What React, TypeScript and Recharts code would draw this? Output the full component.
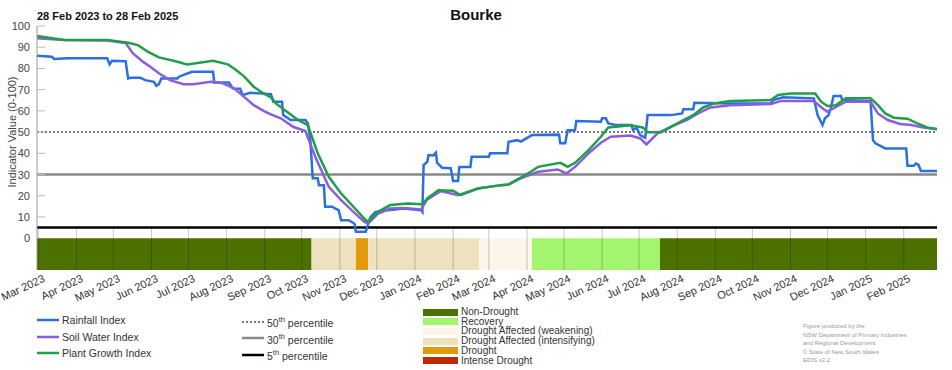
import React from 'react';
import { ComposedChart, Line, XAxis, YAxis, ReferenceLine, ReferenceArea } from 'recharts';

// x values are days counted from 28 Feb 2023 (day 0) to 28 Feb 2025 (day 731)
const rainfallIndex: [number, number][] = [
  [0, 86], [12, 85.5], [14, 84.5], [25, 84.8], [57, 84.8], [59, 81.9], [61, 83.6], [72, 83.4],
  [74, 75.3], [76, 75.6], [84, 75.6], [88, 74.5], [95, 73.7], [97, 71.8], [99, 72.6], [101, 75.3],
  [114, 75.3], [115, 76], [121, 77.4], [126, 78.4], [143, 78.4], [144, 73.4], [156, 73.4], [159, 70.6],
  [165, 70.4], [167, 67.4], [173, 68.5], [190, 67.9], [192, 64.3], [199, 64.3], [200, 58], [206, 55.7],
  [218, 55.7], [220, 54.1], [222, 46.2], [224, 28.2], [228, 28.2], [229, 25], [233, 25], [234, 14.8],
  [240, 14.8], [242, 14], [245, 13.2], [247, 8.5], [253, 8.5], [257, 7.2], [258, 6.6], [259, 3],
  [267, 3], [269, 6.9], [271, 10], [275, 12.4], [285, 13.2], [298, 14], [312, 13.2], [313, 12.4],
  [314, 34.4], [317, 36], [318, 39.2], [322, 39], [324, 40.3], [325, 35.5], [329, 33.2], [336, 33],
  [338, 27], [342, 27], [343, 33.6], [352, 33.6], [353, 38.4], [367, 38.4], [368, 40], [382, 40],
  [383, 45.4], [390, 46.2], [393, 45.5], [395, 46.2], [402, 48.6], [424, 48.8], [425, 44.7], [429, 44.7],
  [431, 50.9], [437, 50.9], [438, 55.2], [458, 54.9], [459, 56.5], [462, 56.5], [464, 54.1], [470, 53.3],
  [483, 53.3], [484, 51], [487, 52], [490, 48.6], [494, 47.3], [496, 58], [515, 58], [524, 58.8],
  [525, 60.8], [533, 60.8], [534, 63.8], [563, 63.5], [596, 63.5], [598, 65.1], [606, 66.4], [631, 65.9],
  [634, 58], [636, 55.7], [638, 53.3], [640, 56.5], [643, 58], [645, 62], [647, 67], [653, 67],
  [654, 65.1], [677, 64.6], [679, 46.2], [681, 44.7], [685, 43.5], [689, 42.3], [706, 42.3], [707, 34.1],
  [712, 34.1], [714, 35.2], [716, 34.5], [718, 31.7], [731, 31.7],
];

const soilWaterIndex: [number, number][] = [
  [0, 94.2], [22, 93.4], [57, 93.2], [72, 92], [78, 87.1], [86, 83.2], [92, 80.8], [99, 77.7],
  [108, 74.5], [119, 72.6], [127, 72.6], [141, 73.7], [151, 73], [160, 70.6], [168, 66.7], [176, 62.7],
  [184, 60], [190, 58.3], [198, 56.5], [208, 52.5], [218, 50.5], [226, 38.4], [237, 24.2], [247, 17.9],
  [257, 12.4], [266, 7.7], [269, 6.9], [277, 11.6], [287, 14], [298, 14.2], [312, 13.5], [317, 18.3],
  [328, 22.2], [342, 20.3], [358, 23.4], [377, 25], [383, 25.3], [394, 28.5], [407, 31.3], [423, 32.4],
  [430, 30.5], [437, 33.6], [448, 40], [458, 45], [466, 47.8], [482, 48.4], [490, 47], [495, 44.2],
  [504, 49.4], [516, 52.8], [528, 55.7], [537, 58.8], [547, 61.6], [563, 62.6], [596, 63.2], [604, 64.6],
  [631, 64.6], [638, 61.2], [642, 59.6], [649, 61.9], [657, 64.3], [677, 64.3], [683, 58.8], [691, 55.7],
  [701, 53.8], [710, 53.3], [720, 52.2], [731, 51.3],
];

const plantGrowthIndex: [number, number][] = [
  [0, 95.3], [22, 93.4], [57, 93.4], [74, 92.1], [82, 91], [90, 87.9], [99, 85.2], [111, 83.6],
  [122, 81.9], [143, 83.6], [155, 81.9], [160, 80], [168, 76.4], [176, 71.4], [184, 68.2], [190, 66.4],
  [194, 63.5], [203, 59.6], [212, 55.7], [220, 53.3], [228, 40], [237, 28.9], [247, 21.1], [257, 14.8],
  [267, 8.5], [269, 7.9], [277, 12.4], [287, 15.6], [301, 16.3], [313, 16], [317, 18.7], [326, 22.6],
  [338, 22.3], [344, 20.3], [358, 23.4], [377, 25], [383, 25.3], [394, 28.9], [401, 31.3], [407, 33.6],
  [425, 35.5], [431, 33.6], [437, 35.5], [448, 41.5], [458, 47.8], [464, 52.2], [482, 53.2], [492, 52.2],
  [496, 49.9], [507, 49.9], [516, 52.8], [525, 55.7], [533, 58], [541, 61.6], [550, 63.5], [563, 64.6],
  [596, 65.1], [602, 67.5], [612, 68.2], [632, 68.2], [637, 64.3], [642, 62.3], [649, 62.7], [657, 65.9],
  [677, 65.9], [683, 62.7], [689, 58.8], [696, 56.8], [707, 56.3], [715, 54.1], [723, 52.2], [731, 51.4],
];

// drought status periods: [from day, to day, status]
const droughtPeriods: [number, number, string][] = [
  [0, 223, 'Non-Drought'],
  [223, 259, 'Drought Affected (intensifying)'],
  [259, 269, 'Drought'],
  [269, 359, 'Drought Affected (intensifying)'],
  [359, 402, 'Drought Affected (weakening)'],
  [402, 506, 'Recovery'],
  [506, 731, 'Non-Drought'],
];

const statusNames = [
  'Non-Drought',
  'Recovery',
  'Drought Affected (weakening)',
  'Drought Affected (intensifying)',
  'Drought',
  'Intense Drought',
];
const statusColors = ['#4c7100', '#a4f56e', '#fdf5e9', '#eee1bd', '#e3990c', '#bf2a05'];

const monthDays = [1, 32, 62, 93, 123, 154, 185, 215, 246, 276, 307, 338, 367, 398, 428, 459, 489, 520, 551, 581, 612, 642, 673, 704];
const monthLabels = [
  'Mar 2023', 'Apr 2023', 'May 2023', 'Jun 2023', 'Jul 2023', 'Aug 2023', 'Sep 2023', 'Oct 2023',
  'Nov 2023', 'Dec 2023', 'Jan 2024', 'Feb 2024', 'Mar 2024', 'Apr 2024', 'May 2024', 'Jun 2024',
  'Jul 2024', 'Aug 2024', 'Sep 2024', 'Oct 2024', 'Nov 2024', 'Dec 2024', 'Jan 2025', 'Feb 2025',
];

const yTicks = [0, 10, 20, 30, 40, 50, 60, 70, 80, 90, 100];

const COLORS = { rain: '#2b6fe3', soil: '#8b5ee0', plant: '#1f9f49' };
const FONT = '"Liberation Sans", Arial, sans-serif';

const toPoints = (arr: [number, number][]) => arr.map(([day, value]) => ({ day, value }));

const YTick = (props: any) => {
  const { x, y, payload } = props;
  return (
    <g>
      {payload.value > 0 && <line x1={x + 7} x2={x + 15} y1={y} y2={y} stroke="#bbb" strokeWidth={1} />}
      <text x={x} y={y} dy={4} textAnchor="end" fontSize={11} fill="#444" fontFamily={FONT}>
        {payload.value}
      </text>
    </g>
  );
};

const XTick = (props: any) => {
  const { x, y, payload } = props;
  const tx = x + 4;
  return (
    <text
      x={tx}
      y={y}
      dy={8}
      textAnchor="end"
      fontSize={11}
      fill="#333"
      fontFamily={FONT}
      transform={`rotate(-25, ${tx}, ${y})`}
    >
      {monthLabels[monthDays.indexOf(payload.value)] ?? ''}
    </text>
  );
};

const legendLine = (color: string, dash?: string, width = 2.5) => (
  <svg width={22} height={6} style={{ display: 'block' }}>
    <line x1={0} x2={22} y1={3} y2={3} stroke={color} strokeWidth={width} strokeDasharray={dash} />
  </svg>
);

export default function App() {
  const rain = toPoints(rainfallIndex);
  const soil = toPoints(soilWaterIndex);
  const plant = toPoints(plantGrowthIndex);

  const lineRows = [
    { label: 'Rainfall Index', color: COLORS.rain },
    { label: 'Soil Water Index', color: COLORS.soil },
    { label: 'Plant Growth Index', color: COLORS.plant },
  ];
  const pctRows = [
    { n: '50', color: '#777', dash: '2 2', w: 2 },
    { n: '30', color: '#888', dash: undefined, w: 2.5 },
    { n: '5', color: '#000', dash: undefined, w: 2.5 },
  ];

  return (
    <div style={{ position: 'absolute', left: 0, top: 0, width: 952, height: 370, background: '#fff', fontFamily: FONT }}>
      <ComposedChart width={952} height={370} margin={{ top: 26, right: 15, bottom: 60, left: 0 }}>
        <XAxis
          type="number"
          dataKey="day"
          domain={[0, 731]}
          ticks={monthDays}
          interval={0}
          allowDataOverflow
          axisLine={false}
          tickLine={false}
          tickSize={0}
          tickMargin={4}
          height={40}
          tick={<XTick />}
        />
        <YAxis
          type="number"
          domain={[-15, 100]}
          ticks={yTicks}
          interval={0}
          allowDataOverflow
          width={37}
          tickSize={0}
          tickMargin={7}
          tickLine={false}
          axisLine={{ stroke: '#999', strokeWidth: 1 }}
          tick={<YTick />}
        />
        {droughtPeriods.map(([from, to, status], i) => (
          <ReferenceArea
            key={'p' + i}
            x1={from}
            x2={to}
            y1={-15}
            y2={0}
            fill={statusColors[statusNames.indexOf(status)]}
            fillOpacity={1}
            stroke="none"
            ifOverflow="visible"
          />
        ))}
        {monthDays.map((d) => (
          <ReferenceLine
            key={'g' + d}
            segment={[{ x: d, y: -15 }, { x: d, y: 5 }]}
            stroke="rgba(0,0,0,0.22)"
            strokeWidth={1}
          />
        ))}
        <ReferenceLine y={50} stroke="#777" strokeWidth={2} strokeDasharray="2 2" />
        <ReferenceLine y={30} stroke="#888" strokeWidth={2.5} />
        <ReferenceLine y={5} stroke="#000" strokeWidth={2.5} />
        <Line data={rain} dataKey="value" type="linear" stroke={COLORS.rain} strokeWidth={2.5} dot={false} isAnimationActive={false} />
        <Line data={soil} dataKey="value" type="linear" stroke={COLORS.soil} strokeWidth={2.5} dot={false} isAnimationActive={false} />
        <Line data={plant} dataKey="value" type="linear" stroke={COLORS.plant} strokeWidth={2.5} dot={false} isAnimationActive={false} />
      </ComposedChart>

      <div style={{ position: 'absolute', left: 0, width: 952, top: 6, textAlign: 'center', fontWeight: 'bold', fontSize: 15, color: '#111' }}>
        Bourke
      </div>
      <div style={{ position: 'absolute', left: 37, top: 10, fontWeight: 'bold', fontSize: 11, color: '#111' }}>
        28 Feb 2023 to 28 Feb 2025
      </div>
      <div
        style={{
          position: 'absolute', left: 12, top: 132, fontSize: 11, color: '#444', whiteSpace: 'nowrap',
          transform: 'translate(-50%, -50%) rotate(-90deg)',
        }}
      >
        Indicator Value (0-100)
      </div>

      {lineRows.map((r, i) => (
        <div key={r.label} style={{ position: 'absolute', left: 37, top: 314 + i * 16.5, display: 'flex', alignItems: 'center', fontSize: 10.5, color: '#333' }}>
          {legendLine(r.color)}
          <span style={{ marginLeft: 3 }}>{r.label}</span>
        </div>
      ))}
      {pctRows.map((r, i) => (
        <div key={r.n} style={{ position: 'absolute', left: 242, top: 315 + i * 16.5, display: 'flex', alignItems: 'center', fontSize: 10.5, color: '#333' }}>
          {legendLine(r.color, r.dash, r.w)}
          <span style={{ marginLeft: 3 }}>
            {r.n}
            <sup style={{ fontSize: 7.5 }}>th</sup> percentile
          </span>
        </div>
      ))}
      {statusNames.map((s, i) => (
        <div key={s} style={{ position: 'absolute', left: 423, top: 307 + i * 9.7, display: 'flex', alignItems: 'center', fontSize: 10, color: '#333', lineHeight: '10px' }}>
          <div style={{ width: 35, height: 7, background: statusColors[i] }} />
          <span style={{ marginLeft: 3 }}>{s}</span>
        </div>
      ))}
      <div style={{ position: 'absolute', left: 803, top: 322, fontSize: 6, lineHeight: '8.6px', color: '#999' }}>
        Figure produced by the
        <br />
        NSW Department of Primary Industries
        <br />
        and Regional Development
        <br />© State of New South Wales
        <br />
        EDIS v2.2
      </div>
    </div>
  );
}
